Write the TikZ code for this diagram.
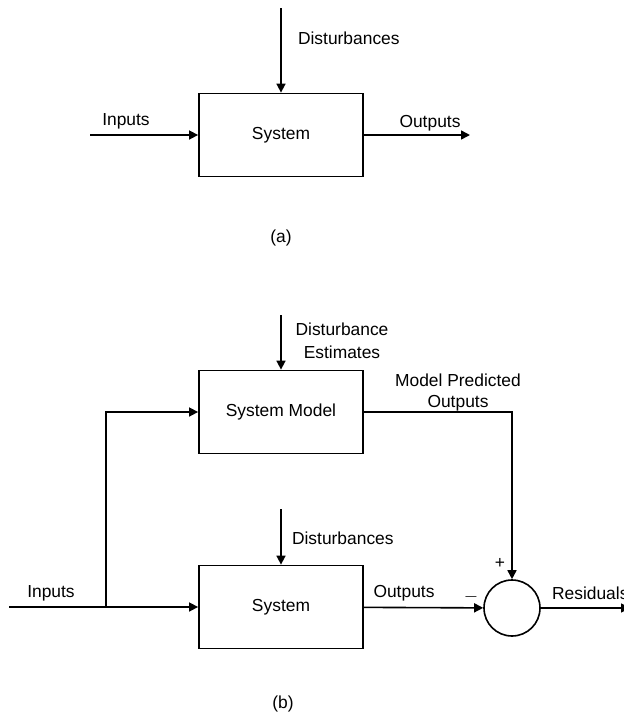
\documentclass[tikz,border=0pt]{standalone}
\usepackage{fontspec}
\setmainfont{Liberation Sans}
\usepackage{tikz}
\usetikzlibrary{arrows.meta}

\begin{document}
\begin{tikzpicture}[x=0.5pt,y=-0.5pt,
    font=\fontsize{8.7}{10.5}\selectfont,
    block/.style={draw, line width=0.9pt, minimum width=82pt, minimum height=41.5pt, inner sep=0pt},
    sumnode/.style={draw, circle, line width=0.8pt, minimum size=28pt, inner sep=0pt},
    signal/.style={line width=0.8pt, -{Triangle[length=4.5pt,width=4.5pt]}},
    wire/.style={line width=0.8pt}]
    \useasboundingbox (0,0) rectangle (624,714);

    % (a) System block
    \node[block] (sysA) at (281,135) {System};
    \coordinate (distA) at (281,8);
    \coordinate (inA) at (90,135);
    \coordinate (outA) at (470,135);
    \draw[signal] (distA) -- (sysA);
    \draw[signal] (inA) -- (sysA);
    \draw[signal] (sysA) -- (outA);
    % Labels
    \node[anchor=west] (lblDistA) at (291,38) {Disturbances};
    \node (lblInA) at (126,121) {Inputs};
    \node (lblOutA) at (430,123) {Outputs};
    \node (capA) at (281,238) {(a)};

    % (b) Model and system
    \node[block] (model) at (281,412) {System Model};
    \node[block] (sysB) at (281,607) {System};
    \node[sumnode] (sum) at (512,608) {};
    \coordinate (distEst) at (281,315);
    \coordinate (distB) at (281,509);
    \coordinate (inB) at (9,607);
    \coordinate (split) at (106,607);
    \coordinate (resB) at (630,608);
    % Connections
    \draw[signal] (distEst) -- (model);
    \draw[signal] (distB) -- (sysB);
    \draw[wire] (inB) -- (split);
    \draw[signal] (split) -- (sysB);
    \draw[signal] (split) |- (model);
    \draw[signal] (model) -| (sum);
    \draw[signal] (sysB) -- (sum);
    \draw[signal] (sum) -- (resB);
    % Labels
    \node[align=center] (lblEst) at (342,341) {Disturbance\\[1pt]Estimates};
    \node[align=center] (lblPred) at (458,392) {Model Predicted\\Outputs};
    \node[anchor=west] (lblDistB) at (285,538) {Disturbances};
    \node (lblInB) at (51,593) {Inputs};
    \node (lblOutB) at (404,593) {Outputs};
    \node (plus) at (500,563) {+};
    \node (minus) at (471,597) {$-$};
    \node[anchor=west] (lblRes) at (545,593) {Residuals};
    \node (capB) at (283,704) {(b)};
\end{tikzpicture}
\end{document}
